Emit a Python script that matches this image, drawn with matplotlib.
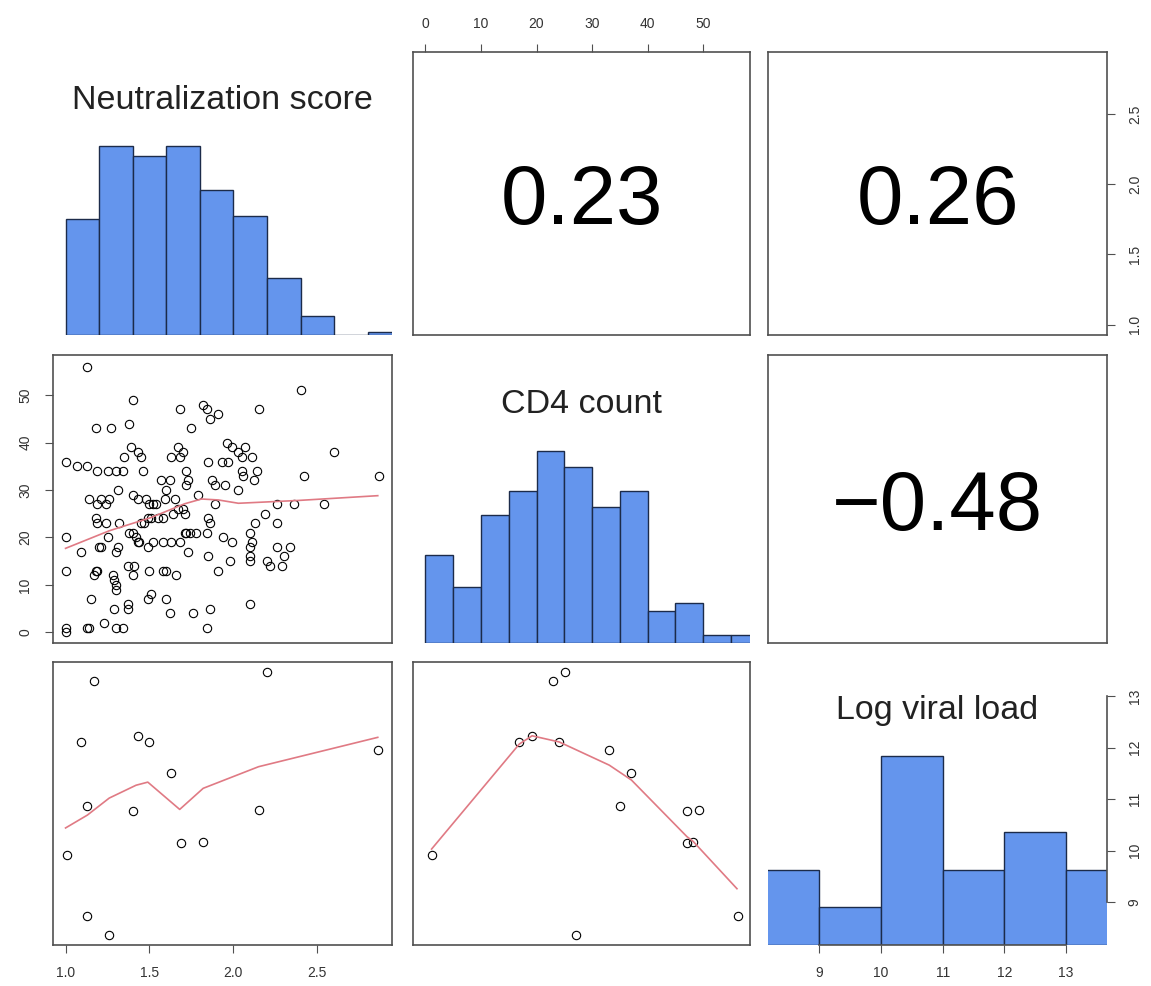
import numpy as np
import matplotlib.pyplot as plt

plt.rcParams['font.family'] = ['Liberation Sans', 'DejaVu Sans']

labels = ['Neutralization score', 'CD4 count', 'Log viral load']

# histogram bins and counts on the diagonal
neut_edges = [1.0, 1.2, 1.4, 1.6, 1.8, 2.0, 2.2, 2.4, 2.6, 2.8, 3.0]
neut_counts = [37, 60, 57, 60, 46, 38, 18, 6, 0, 1]
cd4_edges = [0, 5, 10, 15, 20, 25, 30, 35, 40, 45, 50, 55, 60]
cd4_counts = [11, 7, 16, 19, 24, 22, 17, 19, 4, 5, 1, 1]
vl_edges = [8, 9, 10, 11, 12, 13, 14]
vl_counts = [2, 1, 5, 2, 3, 2]

# correlations shown in the upper panels
r_neut_cd4 = 0.23
r_neut_vl = 0.26
r_cd4_vl = -0.48

# neutralization score vs CD4 count
neut = [1.13, 1.40, 1.68, 1.82, 1.84, 1.86, 1.91, 2.15, 2.40, 1.38,
        1.18, 1.27, 1.75, 1.96, 1.99, 2.03, 2.07, 2.11, 2.05, 1.39,
        1.43, 1.45, 1.35, 1.67, 1.68, 1.63, 1.70, 1.72, 1.85, 1.97,
        1.93, 1.00, 1.07, 1.13, 1.19, 1.25, 1.30, 1.34, 1.46, 2.05,
        2.14, 2.06, 2.12, 2.42, 2.60, 2.87, 1.57, 1.62, 1.73, 1.72,
        1.87, 1.89, 1.95, 2.03, 1.31, 1.60, 1.14, 1.19, 1.21, 1.24,
        1.26, 1.40, 1.43, 1.48, 1.50, 1.52, 1.54, 1.59, 1.65, 1.79,
        1.89, 1.67, 1.70, 1.71, 1.64, 1.18, 1.19, 1.24, 1.32, 1.45,
        1.47, 1.49, 1.51, 1.55, 1.58, 1.85, 1.86, 2.19, 2.13, 2.26,
        2.26, 2.36, 2.54, 1.00, 1.25, 1.38, 1.40, 1.42, 1.43, 1.44,
        1.49, 1.52, 1.58, 1.63, 1.68, 1.71, 1.72, 1.74, 1.78, 1.84,
        1.94, 1.99, 1.73, 1.09, 1.20, 1.21, 1.31, 1.30, 1.85, 2.10,
        2.11, 2.10, 2.10, 2.10, 2.20, 2.22, 2.26, 2.34, 2.30, 2.29,
        1.00, 1.18, 1.19, 1.17, 1.28, 1.29, 1.30, 1.30, 1.37, 1.41,
        1.40, 1.50, 1.58, 1.60, 1.66, 1.91, 1.98, 1.15, 1.51, 1.49,
        1.60, 1.29, 1.37, 1.37, 1.62, 1.76, 1.86, 2.10, 1.00, 1.00,
        1.13, 1.14, 1.23, 1.30, 1.34, 1.84]
cd4 = [56, 49, 47, 48, 47, 45, 46, 47, 51, 44,
       43, 43, 43, 40, 39, 38, 39, 37, 37, 39,
       38, 37, 37, 39, 37, 37, 38, 34, 36, 36,
       36, 36, 35, 35, 34, 34, 34, 34, 34, 34,
       34, 33, 32, 33, 38, 33, 32, 32, 32, 31,
       32, 31, 31, 30, 30, 30, 28, 27, 28, 27,
       28, 29, 28, 28, 27, 27, 27, 28, 28, 29,
       27, 26, 26, 25, 25, 24, 23, 23, 23, 23,
       23, 24, 24, 24, 24, 24, 23, 25, 23, 23,
       27, 27, 27, 20, 20, 21, 21, 20, 19, 19,
       18, 19, 19, 19, 19, 21, 21, 21, 21, 21,
       20, 19, 17, 17, 18, 18, 18, 17, 16, 21,
       19, 18, 16, 15, 15, 14, 18, 18, 16, 14,
       13, 13, 13, 12, 12, 11, 10, 9, 14, 14,
       12, 13, 13, 13, 12, 13, 15, 7, 8, 7,
       7, 5, 6, 5, 4, 4, 5, 6, 1, 0,
       1, 1, 2, 1, 1, 1]

# complete cases with viral load
neut_v = [1.17, 1.09, 1.13, 1.01, 1.13, 1.26, 1.43, 1.50, 1.40, 1.63,
          1.69, 1.82, 2.15, 2.20, 2.86]
cd4_v = [23.0, 16.9, 35.0, 1.1, 56.2, 27.1, 19.2, 24.1, 47.1, 37.1,
         47.1, 48.2, 49.2, 25.1, 33.1]
log_vl = [13.29, 12.10, 10.86, 9.92, 8.73, 8.37, 12.23, 12.10, 10.77, 11.51,
          10.15, 10.17, 10.79, 13.46, 11.95]

# smoothed fits (red lines)
smooth_nc_x = [1.00, 1.26, 1.51, 1.71, 1.81, 1.91, 2.03, 2.39, 2.86]
smooth_nc_y = [17.7, 21.4, 24.2, 27.1, 28.1, 27.9, 27.2, 27.8, 28.8]
smooth_nv_x = [1.00, 1.13, 1.26, 1.42, 1.49, 1.68, 1.82, 2.15, 2.86]
smooth_nv_y = [10.44, 10.69, 11.02, 11.27, 11.33, 10.80, 11.21, 11.63, 12.20]
smooth_cv_x = [1.1, 16.9, 19.2, 24.1, 33.1, 37.1, 47.1, 48.2, 56.1]
smooth_cv_y = [10.03, 12.07, 12.23, 12.11, 11.66, 11.37, 10.27, 10.18, 9.26]

neut_ticks = [1.0, 1.5, 2.0, 2.5]
cd4_ticks = [0, 10, 20, 30, 40, 50]
vl_ticks = [9, 10, 11, 12, 13]


def pad(v):
    lo, hi = min(v), max(v)
    r = hi - lo
    return lo - 0.04 * r, hi + 0.04 * r


neut_lim = pad(neut + neut_v)
cd4_lim = pad(cd4 + cd4_v)
vl_lim = pad(log_vl)
lims = [neut_lim, cd4_lim, vl_lim]

HIST_COL = '#6495ED'
HIST_EDGE = '#1c2b4a'
BOX_COL = '#505050'
LINE_COL = '#E07A84'
TICK_COL = '#333333'

W, H = 1151, 986
fig = plt.figure(figsize=(W / 100, H / 100), dpi=100)
col_px = [(53, 392), (413, 750), (768, 1107)]
row_px = [(52, 335), (355, 643), (662, 945)]

axes = {}
for i, (t, b) in enumerate(row_px):
    for j, (l, r) in enumerate(col_px):
        ax = fig.add_axes([l / W, 1 - b / H, (r - l) / W, (b - t) / H])
        ax.set_xticks([])
        ax.set_yticks([])
        ax.set_xlim(*lims[j])
        for s in ax.spines.values():
            s.set_color(BOX_COL)
            s.set_linewidth(1.2)
        ax.tick_params(direction='out', length=6, width=0.8, color=BOX_COL,
                       labelsize=10, labelcolor=TICK_COL, pad=9)
        axes[i, j] = ax
        if i != j:
            ax.set_ylim(*lims[i])

# diagonal histograms
hists = [(neut_edges, neut_counts), (cd4_edges, cd4_counts), (vl_edges, vl_counts)]
for k, (edges, counts) in enumerate(hists):
    ax = axes[k, k]
    ax.bar(edges[:-1], counts, width=np.diff(edges), align='edge',
           color=HIST_COL, edgecolor=HIST_EDGE, linewidth=1.0)
    ax.set_ylim(0, 1.5 * max(counts))
    for s in ax.spines.values():
        s.set_visible(False)
    ax.text(0.5, 0.80, labels[k], transform=ax.transAxes, ha='center',
            va='baseline', fontsize=24.5, color='#222222')

# correlation panels
for (i, j), r in [((0, 1), r_neut_cd4), ((0, 2), r_neut_vl), ((1, 2), r_cd4_vl)]:
    txt = f'{r:.2f}'.replace('-', '\u2212')
    axes[i, j].text(0.5, 0.47, txt, transform=axes[i, j].transAxes,
                    ha='center', va='center', fontsize=60, color='black')

# scatter panels
def scatter(ax, x, y, sx, sy):
    ax.plot(x, y, 'o', mfc='none', mec='black', ms=6, mew=0.8)
    ax.plot(sx, sy, color=LINE_COL, lw=1.2)

scatter(axes[1, 0], neut, cd4, smooth_nc_x, smooth_nc_y)
scatter(axes[2, 0], neut_v, log_vl, smooth_nv_x, smooth_nv_y)
scatter(axes[2, 1], cd4_v, log_vl, smooth_cv_x, smooth_cv_y)

# outer axes
ax = axes[0, 1]
ax.xaxis.tick_top()
ax.set_xticks(cd4_ticks)
ax.set_xticklabels([str(v) for v in cd4_ticks])

ax = axes[0, 2]
ax.yaxis.tick_right()
ax.set_yticks(neut_ticks)
ax.set_yticklabels([f'{v:.1f}' for v in neut_ticks], rotation=90, va='center')

ax = axes[1, 0]
ax.set_yticks(cd4_ticks)
ax.set_yticklabels([str(v) for v in cd4_ticks], rotation=90, va='center')

ax = axes[2, 0]
ax.set_xticks(neut_ticks)
ax.set_xticklabels([f'{v:.1f}' for v in neut_ticks])

ax = axes[2, 2]
ax.set_xticks(vl_ticks)
ax.set_xticklabels([str(v) for v in vl_ticks])
ax.spines['bottom'].set_visible(True)
ax.spines['bottom'].set_bounds(vl_ticks[0], vl_ticks[-1])
axr = ax.twinx()
axr.set_ylim(*vl_lim)
for name, s in axr.spines.items():
    s.set_visible(name == 'right')
axr.spines['right'].set_color(BOX_COL)
axr.spines['right'].set_linewidth(1.2)
axr.spines['right'].set_bounds(vl_ticks[0], vl_ticks[-1])
axr.set_yticks(vl_ticks)
axr.set_yticklabels([str(v) for v in vl_ticks], rotation=90, va='center')
axr.tick_params(direction='out', length=6, width=0.8, color=BOX_COL,
                labelsize=10, labelcolor=TICK_COL, pad=9)

fig.savefig('out.png', dpi=100)
